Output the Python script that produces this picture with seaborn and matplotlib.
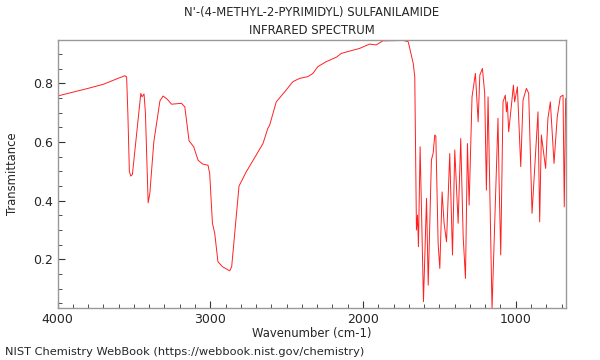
import matplotlib
matplotlib.use("Agg")
import matplotlib.pyplot as plt
from matplotlib.ticker import MultipleLocator
import seaborn as sns
import pandas as pd

TITLE = "N'-(4-METHYL-2-PYRIMIDYL) SULFANILAMIDE\nINFRARED SPECTRUM"
FOOTER = "NIST Chemistry WebBook (https://webbook.nist.gov/chemistry)"

# wavenumber (cm-1)
wavenumber = [
    4000, 3800, 3700, 3600, 3560, 3548, 3540, 3530, 3521, 3510,
    3455, 3447, 3434, 3425, 3407, 3396, 3370, 3330, 3309, 3280,
    3254, 3189, 3167, 3139, 3109, 3080, 3050, 3015, 3004, 2986,
    2971, 2950, 2920, 2873, 2860, 2812, 2764, 2699, 2655, 2623,
    2611, 2568, 2513, 2459, 2415, 2361, 2328, 2296, 2241, 2175,
    2143, 2088, 2023, 1957, 1914, 1870, 1760, 1748, 1704, 1671,
    1661, 1650, 1643, 1637, 1626, 1604, 1584, 1573, 1552, 1541,
    1530, 1523, 1508, 1497, 1482, 1469, 1453, 1432, 1414, 1399,
    1377, 1360, 1344, 1329, 1316, 1305, 1286, 1264, 1246, 1235,
    1218, 1203, 1192, 1181, 1155, 1116, 1109, 1098, 1083, 1068,
    1061, 1055, 1046, 1028, 1015, 1007, 989, 967, 952, 930,
    915, 893, 854, 843, 832, 804, 789, 773, 749, 728,
    708, 690, 682, 673, 664,
]
# transmittance
transmittance = [
    0.757, 0.783, 0.797, 0.818, 0.826, 0.822, 0.700, 0.500, 0.484, 0.490,
    0.766, 0.754, 0.764, 0.700, 0.393, 0.425, 0.600, 0.740, 0.757, 0.745,
    0.729, 0.732, 0.720, 0.604, 0.584, 0.538, 0.525, 0.521, 0.493, 0.323,
    0.289, 0.192, 0.175, 0.161, 0.175, 0.450, 0.499, 0.556, 0.595, 0.647,
    0.658, 0.737, 0.771, 0.806, 0.817, 0.823, 0.834, 0.857, 0.874, 0.889,
    0.902, 0.910, 0.919, 0.934, 0.931, 0.945, 0.946, 0.948, 0.942, 0.868,
    0.823, 0.300, 0.351, 0.243, 0.584, 0.056, 0.408, 0.112, 0.539, 0.561,
    0.624, 0.620, 0.254, 0.169, 0.430, 0.323, 0.260, 0.561, 0.215, 0.573,
    0.323, 0.612, 0.277, 0.135, 0.595, 0.385, 0.754, 0.834, 0.669, 0.828,
    0.851, 0.766, 0.436, 0.754, 0.030, 0.681, 0.470, 0.215, 0.737, 0.760,
    0.703, 0.737, 0.635, 0.726, 0.794, 0.737, 0.788, 0.516, 0.743, 0.783,
    0.766, 0.357, 0.703, 0.328, 0.624, 0.510, 0.681, 0.737, 0.527, 0.686,
    0.754, 0.760, 0.379, 0.749, 0.652,
]

df = pd.DataFrame({"wn": wavenumber, "T": transmittance})

sns.set_style("white")
plt.rcParams["font.family"] = ["DejaVu Sans"]

fig = plt.figure(figsize=(6, 3.6), dpi=100)
ax = fig.add_axes([0.096, 0.145, 0.848, 0.744])

sns.lineplot(data=df, x="wn", y="T", sort=False, color="#ff2020",
             linewidth=0.7, ax=ax)

ax.set_xlim(4000, 668)
ax.set_ylim(0.035, 0.948)
ax.xaxis.set_major_locator(MultipleLocator(1000))
ax.xaxis.set_minor_locator(MultipleLocator(100))
ax.yaxis.set_major_locator(MultipleLocator(0.2))
ax.yaxis.set_minor_locator(MultipleLocator(0.05))
ax.tick_params(which="both", direction="in", top=False, right=False,
               bottom=True, left=True, color="#333333", labelsize=9)
ax.tick_params(which="major", length=5, width=0.8)
ax.tick_params(which="minor", length=3, width=0.6)
for s in ax.spines.values():
    s.set_color("#999999")
    s.set_linewidth(1.0)

ax.set_xlabel("Wavenumber (cm-1)", fontsize=8.4, labelpad=1)
ax.set_ylabel("Transmittance", fontsize=8.4, labelpad=10)
ax.set_title(TITLE, fontsize=8.4, pad=4, linespacing=1.55)
fig.text(0.008, 0.022, FOOTER, fontsize=8.2, ha="left", va="center")

fig.savefig("out.png", dpi=100)
